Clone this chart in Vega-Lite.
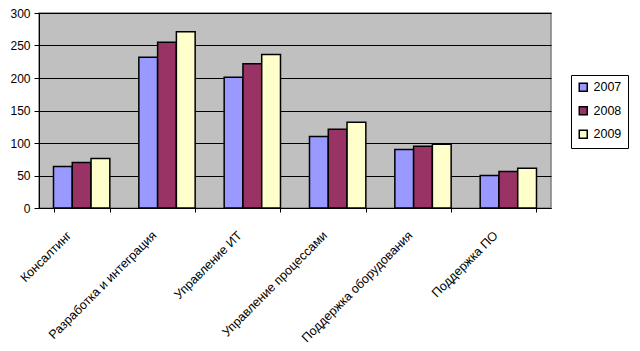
{
  "$schema": "https://vega.github.io/schema/vega-lite/v6.json",
  "width": 512,
  "height": 195,
  "autosize": {"type": "none"},
  "padding": {"left": 39, "top": 13, "right": 89, "bottom": 143},
  "background": "white",
  "config": {
    "view": {"fill": "#C0C0C0", "stroke": "#808080", "strokeWidth": 1.5},
    "font": "Liberation Sans"
  },
  "data": {
    "values": [
      {"category": "Консалтинг", "year": "2007", "value": 64},
      {"category": "Консалтинг", "year": "2008", "value": 70},
      {"category": "Консалтинг", "year": "2009", "value": 76},
      {"category": "Разработка и интеграция", "year": "2007", "value": 232},
      {"category": "Разработка и интеграция", "year": "2008", "value": 255},
      {"category": "Разработка и интеграция", "year": "2009", "value": 271},
      {"category": "Управление ИТ", "year": "2007", "value": 201},
      {"category": "Управление ИТ", "year": "2008", "value": 222},
      {"category": "Управление ИТ", "year": "2009", "value": 236},
      {"category": "Управление процессами", "year": "2007", "value": 110},
      {"category": "Управление процессами", "year": "2008", "value": 121},
      {"category": "Управление процессами", "year": "2009", "value": 132},
      {"category": "Поддержка оборудования", "year": "2007", "value": 90},
      {"category": "Поддержка оборудования", "year": "2008", "value": 95},
      {"category": "Поддержка оборудования", "year": "2009", "value": 98},
      {"category": "Поддержка ПО", "year": "2007", "value": 50},
      {"category": "Поддержка ПО", "year": "2008", "value": 56},
      {"category": "Поддержка ПО", "year": "2009", "value": 61}
    ]
  },
  "mark": {"type": "bar", "stroke": "black", "strokeWidth": 1.5},
  "encoding": {
    "x": {
      "field": "category",
      "type": "nominal",
      "sort": null,
      "scale": {"paddingInner": 0.34, "paddingOuter": 0.17},
      "axis": {
        "title": null,
        "labelAngle": -45,
        "labelAlign": "right",
        "labelBaseline": "middle",
        "labelFontSize": 12.5,
        "labelColor": "black",
        "tickBand": "extent",
        "tickSize": 4,
        "tickColor": "black",
        "domainColor": "black",
        "labelPadding": 21,
        "labelOffset": -13,
        "labelLimit": 300
      }
    },
    "xOffset": {
      "field": "year",
      "type": "nominal",
      "scale": {"paddingInner": 0, "paddingOuter": 0}
    },
    "y": {
      "field": "value",
      "type": "quantitative",
      "scale": {"domain": [0, 300]},
      "axis": {
        "title": null,
        "values": [0, 50, 100, 150, 200, 250, 300],
        "labelFontSize": 12,
        "labelColor": "black",
        "tickColor": "black",
        "tickSize": 5,
        "labelPadding": 4,
        "gridColor": "black",
        "gridOpacity": 1,
        "domainColor": "black"
      }
    },
    "color": {
      "field": "year",
      "type": "nominal",
      "scale": {"range": ["#9999FF", "#993366", "#FFFFCC"]},
      "legend": {
        "title": null,
        "orient": "none",
        "legendX": 532,
        "legendY": 62,
        "strokeColor": "black",
        "fillColor": "white",
        "padding": 6,
        "symbolType": "square",
        "symbolSize": 64,
        "symbolStrokeColor": "black",
        "symbolStrokeWidth": 1.5,
        "labelFontSize": 12.5,
        "labelColor": "black",
        "rowPadding": 8.5
      }
    }
  }
}
